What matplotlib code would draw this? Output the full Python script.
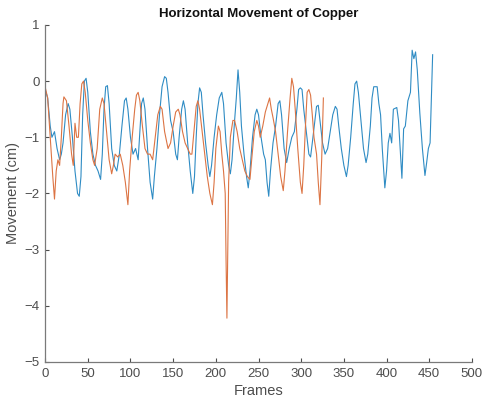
import matplotlib
matplotlib.use("Agg")
import matplotlib.pyplot as plt

# frames / values (peaks, troughs and shoulders)
blue_frames = [0, 3, 6, 8, 11, 14, 17, 19, 21, 24, 27, 29, 32, 35, 38, 40, 42, 44, 46, 48,
               50, 53, 56, 59, 62, 65, 67, 69, 71, 73, 75, 78, 81, 84, 87, 90, 93, 95, 97, 100,
               103, 106, 109, 111, 113, 115, 117, 120, 123, 126, 128, 131, 134, 137, 140, 142, 144, 147, 150, 153,
               155, 157, 160, 162, 164, 167, 170, 173, 175, 177, 179, 181, 183, 185, 188, 191, 193, 195, 198, 201,
               204, 207, 209, 212, 215, 217, 219, 222, 224, 226, 228, 230, 233, 236, 238, 240, 243, 246, 248, 250,
               253, 256, 258, 260, 262, 264, 267, 270, 273, 275, 277, 280, 283, 286, 289, 292, 295, 297, 299, 301,
               303, 306, 309, 311, 313, 316, 318, 320, 322, 325, 328, 331, 334, 337, 340, 342, 344, 347, 350, 353,
               355, 358, 361, 363, 365, 367, 370, 373, 376, 378, 381, 383, 385, 389, 391, 393, 395, 398, 400, 402,
               404, 406, 408, 412, 414, 416, 418, 420, 422, 425, 428, 430, 432, 434, 436, 439, 442, 445, 447, 449,
               451, 454]
blue_values = [-0.15, -0.3, -0.8, -1.0, -0.9, -1.2, -1.4, -1.3, -1.1, -0.6, -0.4, -0.5, -1.0, -1.6, -2.0, -2.05, -1.7, -0.6, 0.0, 0.05,
               -0.2, -0.9, -1.3, -1.5, -1.6, -1.75, -1.3, -0.5, -0.1, -0.08, -0.4, -1.2, -1.5, -1.6, -1.3, -0.8, -0.35, -0.3, -0.5, -1.0,
               -1.3, -1.2, -1.4, -0.9, -0.4, -0.3, -0.5, -1.2, -1.8, -2.1, -1.7, -1.2, -0.6, -0.1, 0.08, 0.05, -0.2, -0.7, -0.9, -1.3,
               -1.4, -1.0, -0.5, -0.35, -0.5, -1.1, -1.6, -2.0, -1.7, -1.0, -0.4, -0.12, -0.2, -0.6, -1.1, -1.5, -1.7, -1.5, -1.0, -0.6,
               -0.3, -0.2, -0.4, -1.1, -1.5, -1.65, -1.4, -0.7, -0.3, 0.2, -0.2, -0.8, -1.3, -1.7, -1.9, -1.6, -1.0, -0.6, -0.5, -0.6,
               -1.0, -1.3, -1.4, -1.8, -2.05, -1.6, -1.1, -0.8, -0.4, -0.35, -0.6, -1.2, -1.45, -1.2, -1.0, -0.9, -0.5, -0.15, -0.12, -0.15,
               -0.5, -0.9, -1.3, -1.35, -1.1, -0.7, -0.45, -0.43, -0.7, -1.1, -1.3, -1.2, -0.9, -0.6, -0.45, -0.5, -0.8, -1.2, -1.5, -1.7,
               -1.5, -1.0, -0.4, -0.05, 0.0, -0.2, -0.7, -1.2, -1.45, -1.3, -0.8, -0.3, -0.1, -0.1, -0.4, -0.6, -1.2, -1.9, -1.6, -1.1,
               -0.93, -1.1, -0.5, -0.47, -0.7, -1.2, -1.73, -0.85, -0.8, -0.35, -0.2, 0.55, 0.4, 0.52, 0.2, -0.57, -1.2, -1.68, -1.45, -1.2,
               -1.1, 0.47]

orange_frames = [0, 3, 6, 9, 11, 13, 15, 17, 19, 21, 22, 25, 28, 31, 33, 35, 37, 39, 41, 43,
                 45, 47, 50, 53, 56, 58, 61, 64, 67, 69, 72, 75, 78, 80, 82, 85, 88, 91, 94, 97,
                 99, 102, 105, 107, 109, 111, 114, 117, 120, 123, 126, 129, 132, 135, 137, 140, 144, 147, 150, 153,
                 156, 158, 161, 164, 167, 170, 172, 175, 177, 179, 181, 184, 187, 190, 193, 196, 198, 200, 203, 205,
                 207, 209, 211, 212, 213, 214, 215, 217, 220, 222, 225, 228, 231, 234, 237, 240, 242, 245, 248, 250,
                 252, 255, 258, 261, 263, 265, 267, 270, 273, 276, 279, 281, 284, 287, 289, 291, 293, 296, 299, 301,
                 303, 305, 307, 309, 311, 313, 315, 318, 320, 322, 324, 326]
orange_values = [-0.1, -0.3, -1.0, -1.7, -2.1, -1.6, -1.4, -1.5, -1.0, -0.4, -0.28, -0.35, -0.8, -1.3, -1.5, -0.75, -1.0, -1.0, -0.4, -0.05,
                 0.0, -0.2, -0.7, -1.1, -1.4, -1.5, -1.2, -0.5, -0.3, -0.4, -0.9, -1.4, -1.65, -1.5, -1.3, -1.35, -1.3, -1.5, -1.8, -2.2,
                 -1.6, -1.0, -0.5, -0.25, -0.2, -0.35, -0.8, -1.2, -1.3, -1.3, -1.4, -1.0, -0.6, -0.45, -0.5, -0.9, -1.2, -1.1, -0.8, -0.55,
                 -0.5, -0.6, -0.9, -1.1, -1.2, -1.3, -1.3, -0.8, -0.45, -0.35, -0.5, -0.9, -1.3, -1.7, -2.0, -2.2, -1.8, -1.2, -0.8, -0.9,
                 -1.3, -1.6, -2.0, -3.2, -4.22, -3.0, -1.8, -1.0, -0.7, -0.7, -0.9, -1.2, -1.4, -1.6, -1.7, -1.75, -1.4, -0.9, -0.7, -0.8,
                 -1.0, -0.8, -0.55, -0.4, -0.3, -0.5, -0.65, -0.9, -1.3, -1.7, -1.95, -1.6, -0.9, -0.3, 0.05, -0.1, -0.5, -1.2, -1.8, -2.0,
                 -1.5, -0.8, -0.2, -0.15, -0.25, -0.6, -1.0, -1.3, -1.8, -2.2, -1.4, -0.3]

x_ticks = [0, 50, 100, 150, 200, 250, 300, 350, 400, 450, 500]
y_ticks = [-5, -4, -3, -2, -1, 0, 1]

plt.rcParams["font.family"] = ["Liberation Sans", "DejaVu Sans"]
axis_gray = "#4d4d4d"

fig = plt.figure(figsize=(4.85, 4.09), dpi=100)
ax = fig.add_axes([0.093, 0.115, 0.88, 0.824])

ax.plot(blue_frames, blue_values, color="#2f8cc4", linewidth=0.8)
ax.plot(orange_frames, orange_values, color="#dc7444", linewidth=0.8)

ax.set_xlim(0, 500)
ax.set_ylim(-5, 1)
ax.set_xticks(x_ticks)
ax.set_yticks(y_ticks)
ax.tick_params(direction="in", length=3, colors=axis_gray, labelsize=9.5, pad=4)
for side in ["top", "right"]:
    ax.spines[side].set_visible(False)
for side in ["left", "bottom"]:
    ax.spines[side].set_color("#7a7a7a")
    ax.spines[side].set_linewidth(0.9)

ax.set_title("Horizontal Movement of Copper", fontsize=9.5, fontweight="bold", color="#111111", pad=6)
ax.set_xlabel("Frames", fontsize=10.5, color=axis_gray, labelpad=3)
ax.set_ylabel("Movement (cm)", fontsize=10.5, color=axis_gray, labelpad=3)

fig.savefig("out.png", dpi=100)
